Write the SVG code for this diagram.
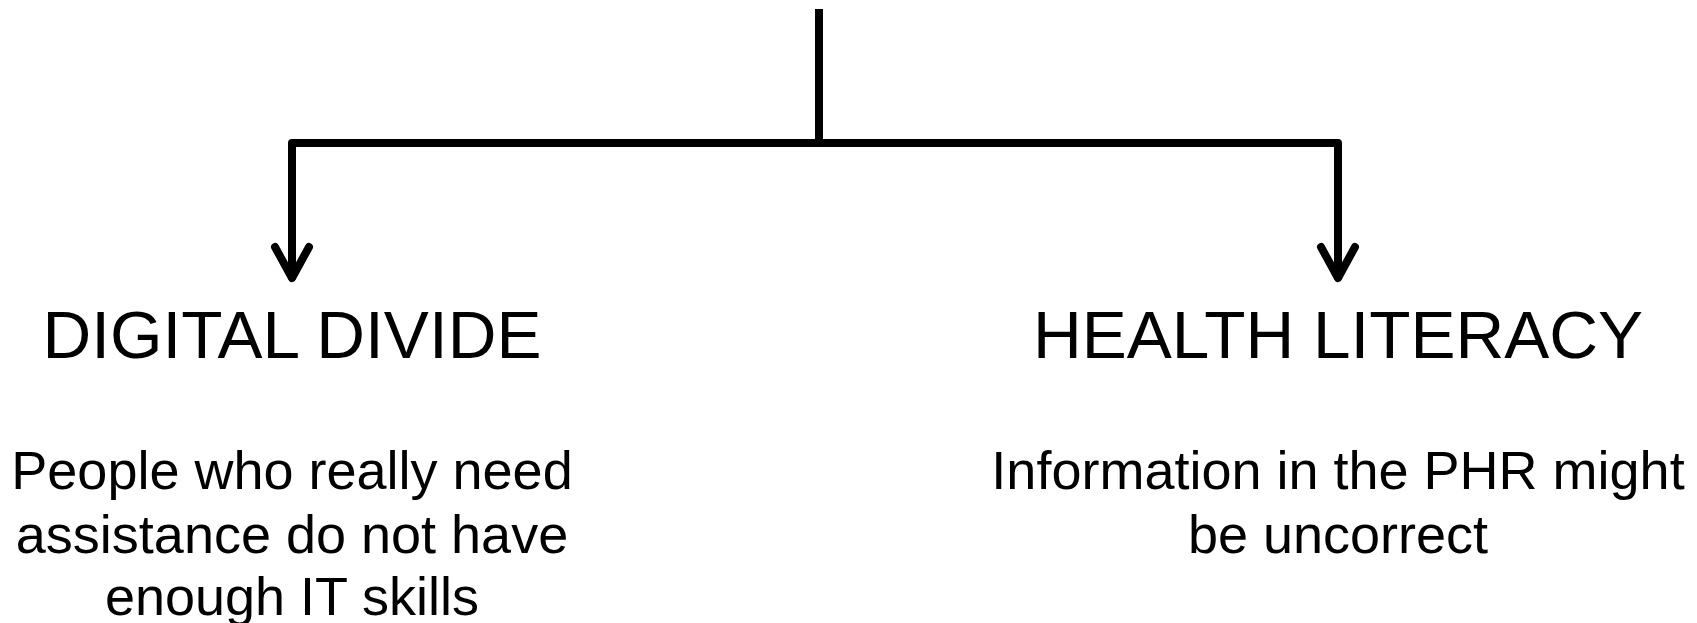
<svg xmlns="http://www.w3.org/2000/svg" width="1697" height="623" viewBox="0 0 1697 623">
<style>
.c{fill:none;stroke:#000;stroke-width:8;stroke-linecap:round;stroke-linejoin:round}
.t{font-family:"Liberation Sans",Arial,sans-serif;fill:#000;text-anchor:middle}
.h{font-size:67.5px}
.b{font-size:54px}
</style>
<rect width="1697" height="623" fill="#fff"/>
<g id="connectors">
<path class="c" d="M819 9 V143" style="stroke-linecap:butt"/>
<path class="c" d="M292 277 V143 H1338 V277"/>
<path class="c" d="M275 247 L292 278 L309 247"/>
<path class="c" d="M1321 247 L1338 278 L1355 247"/>
</g>
<g id="digital-divide">
<text class="t h" x="292" y="358">DIGITAL DIVIDE</text>
<text class="t b" x="292" y="489">People who really need</text>
<text class="t b" x="292" y="553">assistance do not have</text>
<text class="t b" x="292" y="615">enough IT skills</text>
</g>
<g id="health-literacy">
<text class="t h" x="1338" y="358">HEALTH LITERACY</text>
<text class="t b" x="1338" y="489">Information in the PHR might</text>
<text class="t b" x="1338" y="553">be uncorrect</text>
</g>
</svg>
